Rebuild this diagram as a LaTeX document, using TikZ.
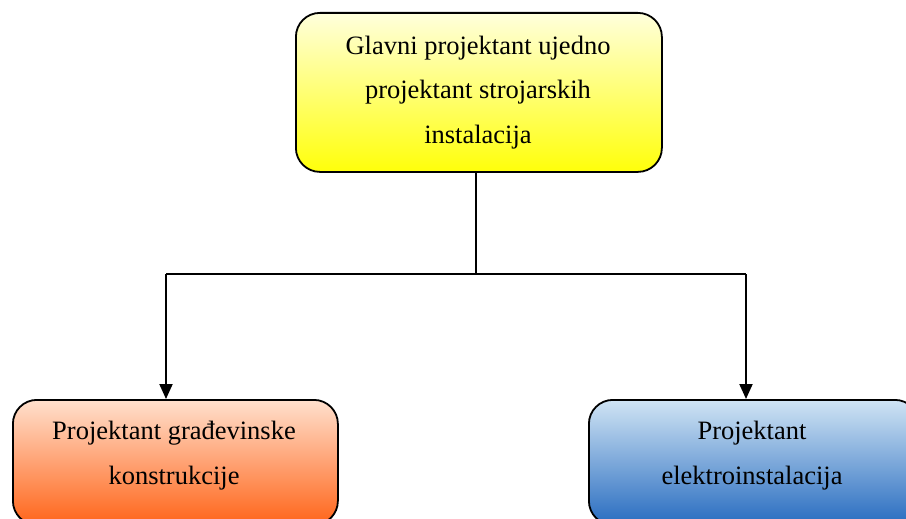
\documentclass[tikz,border=0pt]{standalone}
\usepackage{fontspec}
\setmainfont{Liberation Serif}
\usetikzlibrary{arrows.meta}
\begin{document}
\begin{tikzpicture}[x=1pt,y=-1pt,
  box/.style={draw=black,line width=1.8pt,rounded corners=24pt,anchor=north west,inner sep=0pt},
  label/.style={font=\fontsize{26.5}{30}\selectfont,align=center,inner sep=0pt},
  link/.style={line width=2pt},
  arrow/.style={link,-{Triangle[width=13pt,length=15pt]}}]
\useasboundingbox (0,0) rectangle (906,519);
\clip (0,0) rectangle (906,519);
% boxes
\node[box,top color={rgb,255:red,255;green,255;blue,220},bottom color={rgb,255:red,255;green,255;blue,10},
  minimum width=366pt,minimum height=159pt] (chief) at (295,12) {};
\node[box,top color={rgb,255:red,255;green,224;blue,205},bottom color={rgb,255:red,255;green,100;blue,25},
  minimum width=325pt,minimum height=125pt] (civil) at (12,399) {};
\node[box,top color={rgb,255:red,208;green,228;blue,244},bottom color={rgb,255:red,40;green,108;blue,192},
  minimum width=330pt,minimum height=125pt] (elec) at (588,399) {};
% texts
\node[label] (t1) at (478,48) {Glavni projektant ujedno};
\node[label] (t2) at (478,92) {projektant strojarskih};
\node[label] (t3) at (478,137) {instalacija};
\node[label] (l1) at (174,433) {Projektant građevinske};
\node[label] (l2) at (174,478) {konstrukcije};
\node[label] (r1) at (752,433) {Projektant};
\node[label] (r2) at (752,478) {elektroinstalacija};
% connectors
\coordinate (split) at (476,274);
\coordinate (ltop) at (166,274);
\coordinate (rtop) at (746,274);
\draw[link] (chief.south -| split) -- (split);
\draw[link] (ltop) -- (rtop);
\draw[arrow] (ltop) -- (ltop |- civil.north);
\draw[arrow] (rtop) -- (rtop |- elec.north);
\end{tikzpicture}
\end{document}
